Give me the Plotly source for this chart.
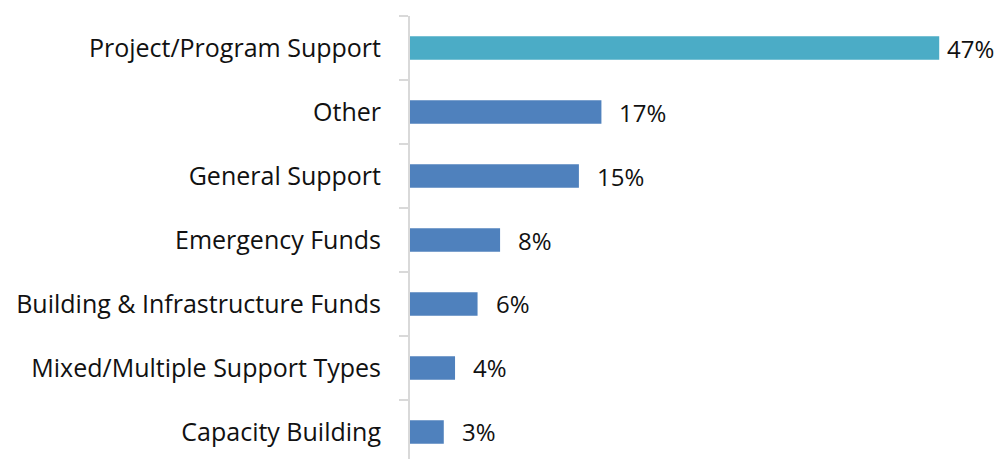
import plotly.graph_objects as go

categories = ["Project/Program Support", "Other", "General Support", "Emergency Funds",
              "Building & Infrastructure Funds", "Mixed/Multiple Support Types", "Capacity Building"]
values = [47, 17, 15, 8, 6, 4, 3]
labels = ["47%", "17%", "15%", "8%", "6%", "4%", "3%"]
colors = ["#4BACC6"] + ["#4F81BD"] * 6
label_shift = [6, 16, 16, 16, 16, 16, 16]

FONT = "Open Sans"
FS = 25

fig = go.Figure(go.Bar(
    y=categories, x=values, orientation="h",
    marker=dict(color=colors, line=dict(width=0)),
    hoverinfo="skip",
))

for c, v, t, s in zip(categories, values, labels, label_shift):
    fig.add_annotation(x=v, y=c, text=t, showarrow=False, xanchor="left", yanchor="middle",
                       xshift=s, font=dict(family=FONT, size=FS - 1, color="#111111"))

fig.update_layout(
    width=996, height=459,
    margin=dict(l=410, r=23, t=16, b=0),
    paper_bgcolor="white", plot_bgcolor="white",
    bargap=0.63, showlegend=False,
    font=dict(family=FONT, size=FS, color="#111111"),
)
fig.update_xaxes(range=[0, 50], visible=False, fixedrange=True)
fig.update_yaxes(
    type="category", categoryorder="array", categoryarray=categories,
    range=[6.422, -0.5], showline=True, linecolor="#D9D9D9", linewidth=2,
    ticks="outside", tickson="boundaries", ticklen=9, tickcolor="#D9D9D9", tickwidth=2,
    showgrid=False, zeroline=False, ticklabelstandoff=22, automargin=False,
    tickfont=dict(family=FONT, size=FS, color="#111111"),
)

fig.write_html("out.html", config={"displayModeBar": False},
               post_script="document.body.style.margin='0';document.body.style.overflow='hidden';")
